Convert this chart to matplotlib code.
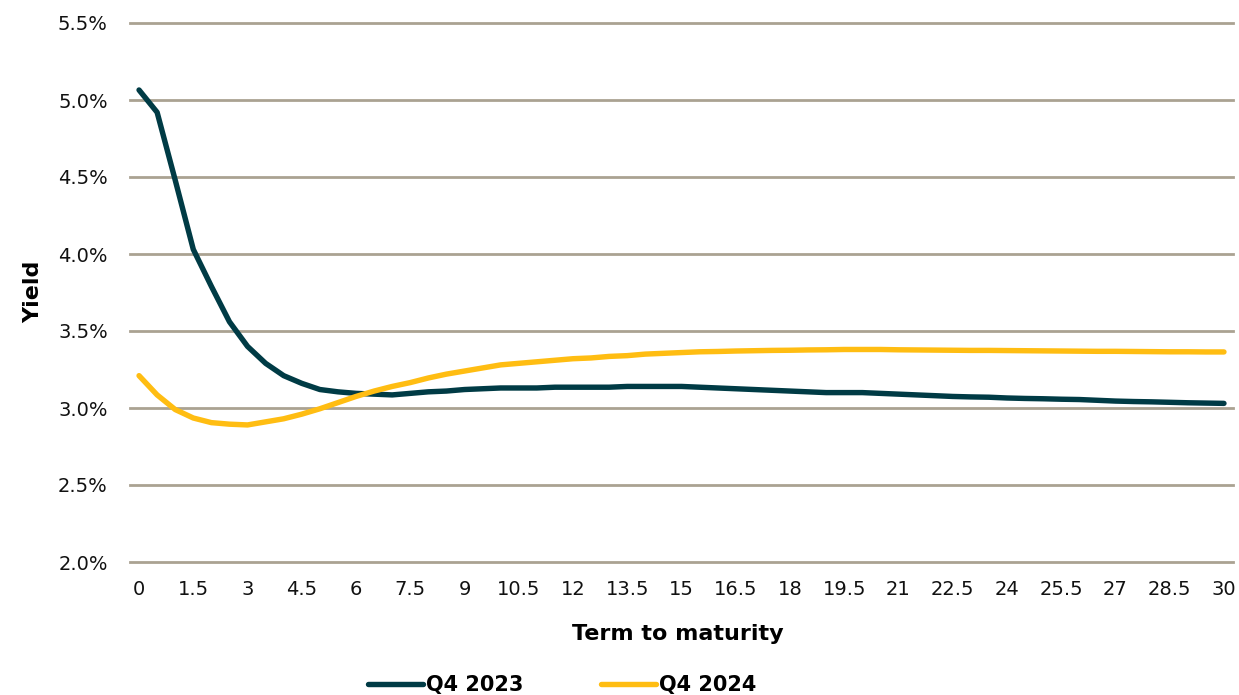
import numpy as np
import matplotlib.pyplot as plt
from matplotlib.ticker import FuncFormatter

plt.rcParams['font.family'] = ['DejaVu Sans']

# term to maturity, years (every half year)
terms = [i * 0.5 for i in range(61)]

q4_2023 = [5.065, 4.92, 4.48, 4.03, 3.79, 3.56, 3.40, 3.29, 3.21, 3.16,
           3.12, 3.105, 3.095, 3.09, 3.085, 3.095, 3.105, 3.11, 3.12, 3.125,
           3.13, 3.13, 3.13, 3.135, 3.135, 3.135, 3.135, 3.14, 3.14, 3.14,
           3.14, 3.135, 3.13, 3.125, 3.12, 3.115, 3.11, 3.105, 3.10, 3.10,
           3.10, 3.095, 3.09, 3.085, 3.08, 3.075, 3.072, 3.07, 3.065, 3.062,
           3.06, 3.057, 3.055, 3.05, 3.045, 3.042, 3.04, 3.037, 3.034, 3.032,
           3.03]

q4_2024 = [3.21, 3.085, 2.99, 2.935, 2.905, 2.895, 2.89, 2.91, 2.93, 2.96,
           2.995, 3.035, 3.075, 3.11, 3.14, 3.165, 3.195, 3.22, 3.24, 3.26,
           3.28, 3.29, 3.30, 3.31, 3.32, 3.325, 3.335, 3.34, 3.35, 3.355,
           3.36, 3.365, 3.367, 3.37, 3.372, 3.374, 3.375, 3.377, 3.378, 3.38,
           3.38, 3.38, 3.378, 3.377, 3.376, 3.375, 3.374, 3.374, 3.373, 3.372,
           3.371, 3.37, 3.369, 3.368, 3.368, 3.367, 3.366, 3.365, 3.365, 3.364,
           3.364]

yticks = [2.0, 2.5, 3.0, 3.5, 4.0, 4.5, 5.0, 5.5]

W, H = 1239, 695
fig = plt.figure(figsize=(W / 100, H / 100), dpi=100)
ax = fig.add_axes([130 / W, 1 - 562 / H, 1103 / W, 539 / H])

pos = np.arange(len(terms))
ax.plot(pos, q4_2023, color='#003b45', lw=3.9, solid_capstyle='round',
        solid_joinstyle='round', label='Q4 2023', zorder=3)
ax.plot(pos, q4_2024, color='#ffbd12', lw=3.9, solid_capstyle='round',
        solid_joinstyle='round', label='Q4 2024', zorder=3)

ax.set_xlim(-0.5, len(terms) - 0.5)
ax.set_ylim(2.0, 5.5)
ax.set_yticks(yticks)
ax.yaxis.set_major_formatter(FuncFormatter(lambda v, _: f'{v:.1f}%'))
ax.set_xticks(pos[::3])
ax.set_xticklabels([f'{t:g}' for t in terms[::3]])
ax.grid(axis='y', color='#aaa292', lw=2)
for gl in ax.get_ygridlines():
    gl.set_clip_on(False)   # keep the edge lines full width
ax.set_axisbelow(True)
for s in ax.spines.values():
    s.set_visible(False)
ax.tick_params(length=0, labelsize=14, colors='#111111')
ax.tick_params(axis='x', pad=13)
ax.tick_params(axis='y', pad=16)

# axis titles
fig.text(678 / W, 1 - 634 / H, 'Term to maturity', fontsize=16,
         fontweight='bold', ha='center', va='center')
fig.text(33 / W, 1 - 292 / H, 'Yield', fontsize=16, fontweight='bold',
         rotation=90, ha='center', va='center')

fig.legend(loc='center', bbox_to_anchor=(562 / W, 1 - 685 / H), ncol=2,
           frameon=False, prop={'weight': 'bold', 'size': 15},
           handlelength=2.65, handletextpad=0.15, columnspacing=3.7,
           borderpad=0, borderaxespad=0)

fig.savefig('out.png', dpi=100)
